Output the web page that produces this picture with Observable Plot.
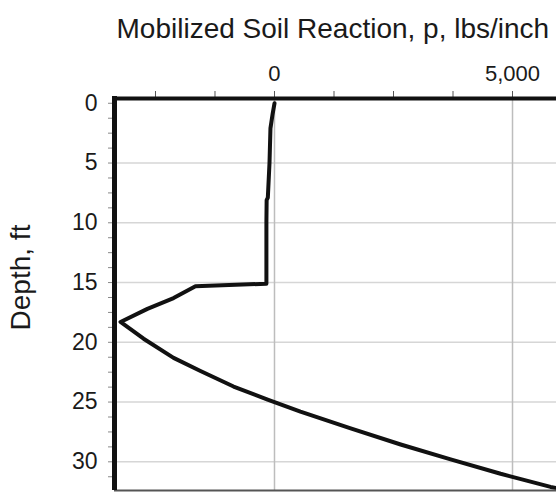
<!DOCTYPE html>
<html>
<head>
<meta charset="utf-8">
<script src="https://cdn.jsdelivr.net/npm/d3@7"></script>
<script src="https://cdn.jsdelivr.net/npm/@observablehq/plot@0.6"></script>
<style>
  html, body { margin: 0; padding: 0; background: #fff; overflow: hidden; }
</style>
</head>
<body>
<div id="chart"></div>
<script>
// Depth (ft) along the pile and mobilized soil reaction p (lbs/inch)
const depth = [0, 0.9, 2.1, 5.0, 7.9, 8.1, 10.0, 15.1, 15.3, 16.3, 17.2, 18.3, 19.7, 21.3, 22.4, 23.7, 24.8, 25.8, 27.2, 28.55, 29.8, 31.0, 32.1, 32.3];
const pValues = [0, -40, -85, -105, -140, -165, -170, -170, -1660, -2120, -2670, -3235, -2750, -2120, -1555, -860, -145, 545, 1600, 2650, 3700, 4750, 5800, 6050];

const xTicks = [-2500, -1250, 0, 1250, 2500, 3750, 5000];
const xLabels = [0, 5000];
const xGrid = [0, 5000];
const yLabels = [0, 5, 10, 15, 20, 25, 30];
const yTicks = [0, 1.25, 2.5, 3.75, 5, 6.25, 7.5, 8.75, 10, 11.25, 12.5, 13.75, 15, 16.25, 17.5, 18.75, 20, 21.25, 22.5, 23.75, 25, 26.25, 27.5, 28.75, 30, 31.25];
const yGrid = [5, 10, 15, 20, 25, 30];
const xDomain = [-3361, 5924];
const yDomain = [-0.4, 32.4];
const title = "Mobilized Soil Reaction, p, lbs/inch";
const yTitle = "Depth, ft";

const series = depth.map((d, i) => ({depth: d, p: pValues[i]}));

const chart = Plot.plot({
  width: 556,
  height: 492,
  marginLeft: 114,
  marginRight: 0,
  marginTop: 98,
  marginBottom: 2,
  style: {fontFamily: "'Liberation Sans', Arial, sans-serif", background: "white", color: "#1a1a1a"},
  x: {domain: xDomain},
  y: {domain: yDomain, reverse: true},
  marks: [
    Plot.ruleY(yGrid, {stroke: "#d6d6d6", strokeWidth: 1.5}),
    Plot.ruleX(xGrid, {stroke: "#bdbdbd", strokeWidth: 1.5}),
    Plot.axisX(xTicks, {anchor: "top", tickSize: 8, tickFormat: () => "", stroke: "#555", label: null}),
    Plot.axisX(xLabels, {anchor: "top", tickSize: 0, tickPadding: 18, fontSize: 22, tickFormat: d3.format(","), label: null}),
    Plot.axisY(yTicks, {anchor: "left", tickSize: 6, tickFormat: () => "", stroke: "#888", label: null}),
    Plot.axisY(yLabels, {anchor: "left", tickSize: 0, tickPadding: 17, fontSize: 23, label: null}),
    Plot.line(series, {x: "p", y: "depth", stroke: "#111", strokeWidth: 4, strokeLinejoin: "round", clip: true}),
    Plot.ruleY([yDomain[1]], {stroke: "#555", strokeWidth: 2}),
    Plot.ruleY([yDomain[0]], {stroke: "#111", strokeWidth: 4}),
    Plot.ruleX([xDomain[0]], {stroke: "#111", strokeWidth: 5, y1: yDomain[0], y2: yDomain[1], insetTop: -2}),
    Plot.text([title], {frameAnchor: "top-left", textAnchor: "start", lineAnchor: "bottom", dx: 2, dy: -61, fontSize: 28, text: d => d}),
    Plot.text([yTitle], {frameAnchor: "left", rotate: -90, dx: -93, dy: -17, fontSize: 28, textAnchor: "middle", lineAnchor: "middle", text: d => d})
  ]
});
document.getElementById("chart").appendChild(chart);
</script>
</body>
</html>
